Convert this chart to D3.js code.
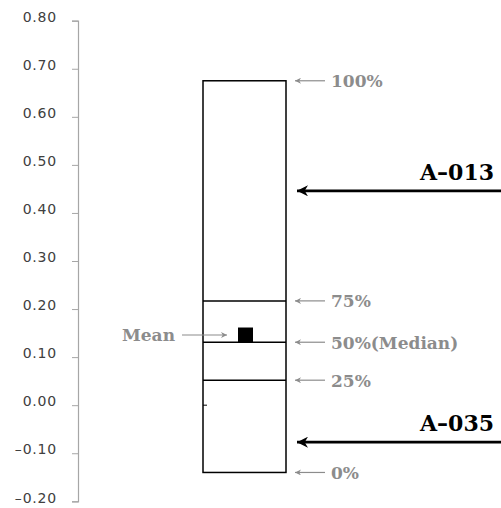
<!DOCTYPE html>
<html>
<head>
<meta charset="utf-8">
<script src="https://cdn.jsdelivr.net/npm/d3@7"></script>
<style>
  body { margin: 0; background: #fff; }
  svg { display: block; }
</style>
</head>
<body>
<div id="chart"></div>
<script>
// data
const tickValues = [-0.2, -0.1, 0, 0.1, 0.2, 0.3, 0.4, 0.5, 0.6, 0.7, 0.8];
const quantileLabels = ['0%', '25%', '50%', '75%', '100%'];
const quantileValues = [-0.14, 0.052, 0.131, 0.217, 0.675];
const meanValue = 0.146;
const sampleNames = ['A\u2013013', 'A\u2013035'];
const sampleValues = [0.446, -0.077];

const width = 501, height = 508;
const gray = '#8c8c8c';
const serif = '"DejaVu Serif", "Liberation Serif", serif';

const svg = d3.select('#chart').append('svg')
    .attr('width', width)
    .attr('height', height);

const y = d3.scaleLinear()
    .domain([-0.2, 0.8])
    .range([501.3, 20.7]);

// box horizontal extent
const boxLeft = 203, boxRight = 286;

// y axis
const yAxis = d3.axisLeft(y)
    .tickValues(tickValues)
    .tickSize(6)
    .tickPadding(15)
    .tickFormat(d => d3.format('.2f')(d).replace('\u2212', '\u2013').replace('-', '\u2013'));

const axisG = svg.append('g')
    .attr('transform', 'translate(78,0)')
    .call(yAxis);
axisG.select('.domain').attr('stroke', '#a6a6a6').attr('stroke-width', 1.2);
axisG.selectAll('.tick line').attr('stroke', '#a6a6a6');
axisG.selectAll('.tick text')
    .attr('fill', '#404040')
    .attr('dy', '0.05em')
    .style('font-family', '"DejaVu Sans", Verdana, sans-serif')
    .style('font-size', '14px')
    .style('letter-spacing', '0.8px');

// arrow heads, tip at the end of the line
const defs = svg.append('defs');
function marker(id, color, w, h) {
    defs.append('marker')
        .attr('id', id)
        .attr('viewBox', '0 0 10 10')
        .attr('refX', 10).attr('refY', 5)
        .attr('markerUnits', 'userSpaceOnUse')
        .attr('markerWidth', w).attr('markerHeight', h)
        .attr('orient', 'auto')
        .append('path')
        .attr('d', 'M10,5 L0,0 L3,5 L0,10 Z')
        .attr('fill', color);
}
marker('grayHead', gray, 7, 6);
marker('blackHead', '#000', 12, 11);

// the box
svg.append('rect')
    .attr('x', boxLeft)
    .attr('y', y(d3.max(quantileValues)))
    .attr('width', boxRight - boxLeft)
    .attr('height', y(d3.min(quantileValues)) - y(d3.max(quantileValues)))
    .attr('fill', 'none')
    .attr('stroke', '#000')
    .attr('stroke-width', 1.5);

svg.selectAll('line.quart')
    .data(quantileValues.slice(1, 4))
    .enter().append('line')
    .attr('class', 'quart')
    .attr('x1', boxLeft).attr('x2', boxRight)
    .attr('y1', d => y(d)).attr('y2', d => y(d))
    .attr('stroke', '#000')
    .attr('stroke-width', 1.5);

// tiny zero tick inside the box
svg.append('line')
    .attr('x1', boxLeft).attr('x2', boxLeft + 4)
    .attr('y1', y(0)).attr('y2', y(0))
    .attr('stroke', '#000')
    .attr('stroke-width', 1);

// mean square
const sq = 15;
svg.append('rect')
    .attr('x', 238)
    .attr('y', y(meanValue) - sq / 2)
    .attr('width', sq).attr('height', sq)
    .attr('fill', '#000');

svg.append('line')
    .attr('x1', 182).attr('x2', 227)
    .attr('y1', y(meanValue)).attr('y2', y(meanValue))
    .attr('stroke', gray).attr('stroke-width', 1.2)
    .attr('marker-end', 'url(#grayHead)');

svg.append('text')
    .attr('x', 175).attr('y', y(meanValue))
    .attr('dy', '0.35em')
    .attr('text-anchor', 'end')
    .attr('fill', gray)
    .style('font-family', serif)
    .style('font-weight', 'bold')
    .style('font-size', '17px')
    .text('Mean');

// quantile annotations
const qg = svg.selectAll('g.qlab')
    .data(quantileValues)
    .enter().append('g')
    .attr('class', 'qlab')
    .attr('transform', d => 'translate(0,' + y(d) + ')');

qg.append('line')
    .attr('x1', 325).attr('x2', 295)
    .attr('stroke', gray).attr('stroke-width', 1.2)
    .attr('marker-end', 'url(#grayHead)');

const qt = qg.append('text')
    .attr('x', 331)
    .attr('dy', '0.38em')
    .attr('fill', gray)
    .style('font-family', serif)
    .style('font-weight', 'bold')
    .style('font-size', '17px');
qt.append('tspan').text((d, i) => quantileLabels[i]);
qt.filter((d, i) => quantileLabels[i] === '50%')
    .append('tspan')
    .text('(Median)');

// sample arrows
const sg = svg.selectAll('g.sample')
    .data(sampleValues)
    .enter().append('g')
    .attr('class', 'sample')
    .attr('transform', d => 'translate(0,' + y(d) + ')');

sg.append('line')
    .attr('x1', width).attr('x2', 297)
    .attr('stroke', '#000').attr('stroke-width', 2.8)
    .attr('marker-end', 'url(#blackHead)');

sg.append('text')
    .attr('x', 494).attr('y', -11)
    .attr('text-anchor', 'end')
    .attr('fill', '#000')
    .style('font-family', serif)
    .style('font-weight', 'bold')
    .style('font-size', '22px')
    .text((d, i) => sampleNames[i]);
</script>
</body>
</html>
